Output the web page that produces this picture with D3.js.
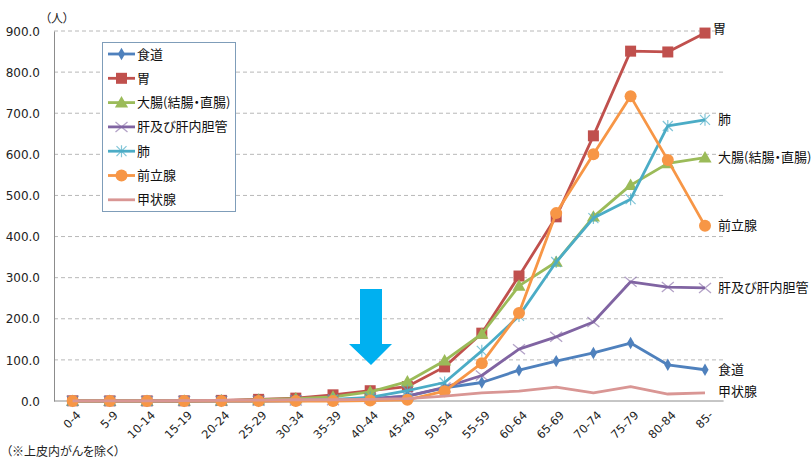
<!DOCTYPE html>
<html>
<head>
<meta charset="utf-8">
<script src="https://cdn.jsdelivr.net/npm/d3@7"></script>
<style>
  body { margin: 0; background: #fff; }
  svg { font-family: "Noto Sans CJK JP", "Noto Sans", sans-serif; font-feature-settings: "palt"; }
</style>
</head>
<body>
<svg id="chart" width="811" height="460"></svg>
<script>
// age groups
var ages = ["0-4","5-9","10-14","15-19","20-24","25-29","30-34","35-39","40-44","45-49",
            "50-54","55-59","60-64","65-69","70-74","75-79","80-84","85-"];
var yTicks = [0,100,200,300,400,500,600,700,800,900];

// values (persons)
var shokudo  = [0,0,0,0,0,0,0.5,2,5,12,32,45,75,97,117,141,88,76];
var stomach  = [0.5,0.3,0.3,0.5,1.5,4,7,15,25,35,83,165,304,448,645,851,849,895];
var daicho   = [0,0,0,0.5,1,3,6,10,22,47,98,163,280,338,448,525,578,592];
var kan      = [0.5,0,0,0,0.3,0.5,1,2,6,12,33,62,126,156,192,290,277,275];
var hai      = [0,0,0,0.3,0.5,1,2,4,9,25,45,122,207,338,445,491,669,684];
var zenritsu = [0,0,0,0,0,0,0,0,1,3,24,92,214,457,600,741,586,426];
var kojo     = [0.5,0.5,0.5,1,1.5,2,3,3,4,6,12,20,24,34,20,35,17,20];

var series = [
  {name:"食道", values:shokudo, color:"#4F81BD", marker:"diamond", dx:13, dy:0},
  {name:"胃", values:stomach, color:"#C0504D", marker:"square", dx:8, dy:-5},
  {name:"大腸(結腸・直腸)", values:daicho, color:"#9BBB59", marker:"triangle", dx:13, dy:0},
  {name:"肝及び肝内胆管", values:kan, color:"#8064A2", marker:"x", dx:13, dy:0},
  {name:"肺", values:hai, color:"#4BACC6", marker:"star", dx:13, dy:0},
  {name:"前立腺", values:zenritsu, color:"#F79646", marker:"circle", dx:13, dy:0},
  {name:"甲状腺", values:kojo, color:"#D99694", marker:"none", dx:13, dy:-1}
];

var svg = d3.select("#chart");
var plotLeft = 54, plotTop = 31, plotBottom = 401, plotRight = 54 + 18*37.2;

var x = d3.scaleBand().domain(ages).range([plotLeft, plotRight]);
var y = d3.scaleLinear().domain([0, 900]).range([plotBottom, plotTop]);
var cx = function(i){ return x(ages[i]) + x.bandwidth()/2; };

// gridlines
svg.append("g").selectAll("line")
  .data(yTicks.slice(1))
  .enter().append("line")
  .attr("x1", plotLeft).attr("x2", plotRight)
  .attr("y1", function(d){ return y(d); }).attr("y2", function(d){ return y(d); })
  .attr("stroke", "#b8b8b8").attr("stroke-dasharray", "4,3").attr("stroke-width", 1);

// y axis
var yAxis = svg.append("g")
  .attr("transform", "translate(" + plotLeft + ",0)")
  .call(d3.axisLeft(y).tickValues(yTicks).tickSize(0).tickPadding(14)
        .tickFormat(function(d){ return d3.format(".1f")(d); }));
yAxis.select(".domain").attr("stroke", "#8c8c8c");
yAxis.selectAll("text").attr("font-size", 12).attr("fill", "#222")
  .attr("font-family", "'DejaVu Sans', sans-serif").attr("dy", "0.35em");

// x axis
var xAxis = svg.append("g")
  .attr("transform", "translate(0," + plotBottom + ")")
  .call(d3.axisBottom(x).tickSize(0).tickPadding(0));
xAxis.select(".domain").attr("stroke", "#8c8c8c").attr("d", "M" + plotLeft + ",0H" + plotRight);
xAxis.selectAll("text")
  .attr("font-size", 11.5).attr("fill", "#222")
  .attr("font-family", "'DejaVu Sans', sans-serif")
  .attr("text-anchor", "end")
  .attr("transform", "translate(6,12) rotate(-45)")
  .attr("dy", "0.35em").attr("y", 0);

// unit label
svg.append("text").attr("x", 45).attr("y", 23).attr("font-size", 12).attr("fill", "#222").text("（人）");

// lines
var line = d3.line()
  .x(function(d, i){ return cx(i); })
  .y(function(d){ return y(d); });

function drawMarker(g, type, color, px, py) {
  if (type === "diamond") {
    g.append("path").attr("d", d3.symbol().type(d3.symbolDiamond).size(45)())
      .attr("transform", "translate(" + px + "," + py + ")").attr("fill", color);
  } else if (type === "square") {
    g.append("rect").attr("x", px-5.5).attr("y", py-5.5).attr("width", 11).attr("height", 11).attr("fill", color);
  } else if (type === "triangle") {
    g.append("path").attr("d", d3.symbol().type(d3.symbolTriangle).size(75)())
      .attr("transform", "translate(" + px + "," + (py+1) + ")").attr("fill", color);
  } else if (type === "circle") {
    g.append("circle").attr("cx", px).attr("cy", py).attr("r", 6).attr("fill", color);
  } else if (type === "x") {
    g.append("path").attr("d", "M-6,-5L6,5M-6,5L6,-5")
      .attr("transform", "translate(" + px + "," + py + ")")
      .attr("stroke", color).attr("stroke-opacity", 0.6).attr("stroke-width", 1.3).attr("fill", "none");
  } else if (type === "star") {
    g.append("path").attr("d", "M-5,-5L5,5M-5,5L5,-5M0,-6L0,6")
      .attr("transform", "translate(" + px + "," + py + ")")
      .attr("stroke", color).attr("stroke-opacity", 0.7).attr("stroke-width", 1.2).attr("fill", "none");
  }
}

series.forEach(function(s){
  var g = svg.append("g");
  g.append("path").attr("d", line(s.values))
    .attr("fill", "none").attr("stroke", s.color).attr("stroke-width", 2.8)
    .attr("stroke-linejoin", "round");
  s.values.forEach(function(v, i){ drawMarker(g, s.marker, s.color, cx(i), y(v)); });
  // right side label
  svg.append("text")
    .attr("x", cx(17) + s.dx).attr("y", y(s.values[17]) + s.dy)
    .attr("dy", "0.35em").attr("font-size", 13).attr("fill", "#111")
    .text(s.name);
});

// legend
var lg = svg.append("g");
lg.append("rect").attr("x", 102.5).attr("y", 42.5).attr("width", 133).attr("height", 169)
  .attr("fill", "#fff").attr("stroke", "#7f9db9").attr("stroke-width", 1);
series.forEach(function(s, i){
  var ly = 54 + i*24.3;
  lg.append("line").attr("x1", 108).attr("x2", 135).attr("y1", ly).attr("y2", ly)
    .attr("stroke", s.color).attr("stroke-width", 2.8);
  drawMarker(lg, s.marker, s.color, 121.5, ly);
  lg.append("text").attr("x", 137).attr("y", ly).attr("dy", "0.35em")
    .attr("font-size", 13).attr("fill", "#111").text(s.name);
});

// arrow
svg.append("path")
  .attr("d", "M360,289H382V344H392L371,365L349,344H360Z")
  .attr("fill", "#00B0F0");

// footnote
svg.append("text").attr("x", 6).attr("y", 452).attr("dy", "0.35em")
  .attr("font-size", 12).attr("fill", "#222").text("（※上皮内がんを除く）");
</script>
</body>
</html>
